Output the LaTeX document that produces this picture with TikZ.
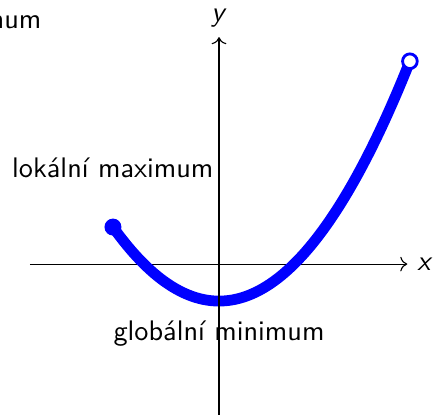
\documentclass[tikz,border=0pt]{standalone}
\usepackage{tikz}
\usetikzlibrary{arrows.meta}
\renewcommand{\familydefault}{\sfdefault}
\tikzset{
  axisline/.style={->,black},
  graphline/.style={blue,line width=3.8pt},
  fulldot/.style={circle,fill=blue,inner sep=0pt,minimum size=6pt},
  emptydot/.style={circle,draw=blue,fill=white,line width=1pt,inner sep=0pt,minimum size=5.2pt},
  notetext/.style={font=\sffamily,inner sep=0pt}
}

\begin{document}
\begin{tikzpicture}
  \useasboundingbox (-2.722,-1.865) rectangle (2.672,3.282);
  % axes ends
  \coordinate (xstart) at (-2.35,0);
  \coordinate (xend) at (2.34,0);
  \coordinate (ystart) at (0,-1.95);
  \coordinate (yend) at (0,2.82);
  \draw[axisline] (xstart) -- (xend);
  \node[right] (xlabel) at (xend) {\textit{x}};
  % the graph
  \begin{scope}[x=0.659cm,y=0.23cm]
    \draw[graphline] plot[domain=-2:3.6,samples=80,smooth] (\x,{\x*\x-2});
    \node[fulldot] (leftend) at (-2,2) {};
    \node[emptydot] (rightend) at (3.6,10.96) {};
  \end{scope}
  \draw[axisline] (ystart) -- (yend);
  \node[above] (ylabel) at (yend) {\textit{y}};
  % labels
  \node[notetext,anchor=base] (locmax) at (-1.32,1.08) {lokální maximum};
  \node[notetext,anchor=base] (globmin) at (0,-0.945) {globální minimum};
  \node[notetext,anchor=base east] (globmax) at (-2.20,2.93) {maximum};
\end{tikzpicture}
\end{document}
